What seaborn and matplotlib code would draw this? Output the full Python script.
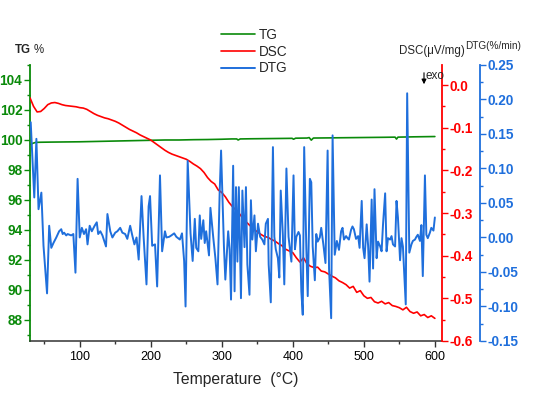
#!/usr/bin/env python3
import numpy as np
import matplotlib
matplotlib.use("Agg")
import matplotlib.pyplot as plt
from matplotlib.ticker import MultipleLocator, FormatStrFormatter
import seaborn as sns

# TG curve (%)
tg_temp = [31, 34, 38, 45, 60, 80, 100, 120, 140, 160, 180, 200, 220, 240,
           260, 280, 300, 314, 321, 323, 326, 340, 360, 380, 399, 401, 404,
           420, 423, 426, 429, 450, 470, 490, 510, 530, 544, 546, 548, 570, 600]
tg_mass = [99.70, 99.78, 99.84, 99.85, 99.86, 99.87, 99.88, 99.90, 99.92, 99.94,
           99.96, 99.98, 100.00, 100.00, 100.02, 100.03, 100.05, 100.07, 100.07, 100.00,
           100.07, 100.08, 100.09, 100.10, 100.11, 100.05, 100.12, 100.13, 100.16, 99.99,
           100.13, 100.14, 100.15, 100.16, 100.17, 100.18, 100.19, 100.06, 100.19, 100.21, 100.23]

# DSC curve (uV/mg), every 5 C from 30 to 600
dsc_temp = list(range(30, 601, 5))
dsc_heat = [-0.030, -0.050, -0.063, -0.062, -0.055, -0.046, -0.042, -0.041, -0.043, -0.046,
            -0.048, -0.049, -0.050, -0.051, -0.053, -0.054, -0.057, -0.062, -0.067, -0.071,
            -0.074, -0.077, -0.079, -0.082, -0.085, -0.089, -0.094, -0.099, -0.104, -0.108,
            -0.112, -0.117, -0.121, -0.125, -0.129, -0.135, -0.141, -0.147, -0.153, -0.158,
            -0.162, -0.165, -0.168, -0.171, -0.174, -0.179, -0.185, -0.190, -0.196, -0.205,
            -0.217, -0.226, -0.232, -0.246, -0.252, -0.262, -0.275, -0.285, -0.293, -0.302,
            -0.313, -0.322, -0.330, -0.338, -0.344, -0.350, -0.355, -0.357, -0.362, -0.366,
            -0.372, -0.377, -0.385, -0.389, -0.393, -0.405, -0.415, -0.405, -0.419, -0.425,
            -0.428, -0.427, -0.436, -0.438, -0.443, -0.448, -0.452, -0.459, -0.463, -0.468,
            -0.476, -0.472, -0.486, -0.482, -0.494, -0.500, -0.498, -0.508, -0.511, -0.507,
            -0.513, -0.510, -0.517, -0.519, -0.522, -0.527, -0.521, -0.531, -0.535, -0.532,
            -0.541, -0.538, -0.545, -0.541, -0.547]

# DTG curve (%/min)
dtg_temp = [31, 36, 39, 42, 46, 49, 54, 57, 60, 63,
            67, 71, 74, 76, 78, 81, 83, 88, 91, 94,
            97, 100, 103, 106, 109, 111, 114, 117, 121, 124,
            126, 129, 132, 137, 139, 143, 146, 150, 153, 157,
            160, 164, 167, 171, 174, 177, 180, 183, 187, 190,
            194, 197, 199, 202, 206, 209, 213, 216, 220, 222,
            226, 229, 233, 236, 241, 244, 247, 249, 252, 256,
            259, 262, 264, 267, 269, 271, 274, 276, 278, 282,
            284, 288, 291, 294, 297, 299, 303, 305, 309, 311,
            313, 316, 318, 320, 322, 324, 327, 329, 332, 334,
            336, 339, 341, 343, 346, 348, 351, 354, 357, 360,
            362, 365, 366, 369, 372, 374, 376, 379, 381, 383,
            386, 388, 391, 394, 396, 398, 401, 403, 405, 408,
            410, 412, 414, 416, 419, 421, 424, 426, 428, 431,
            433, 435, 438, 440, 443, 446, 449, 451, 454, 456,
            459, 462, 465, 468, 470, 472, 475, 477, 479, 482,
            484, 486, 489, 492, 494, 497, 499, 501, 504, 506,
            508, 511, 513, 515, 518, 520, 523, 525, 527, 530,
            532, 534, 537, 539, 541, 544, 546, 548, 551, 553,
            555, 559, 561, 564, 567, 569, 572, 574, 576, 579,
            581, 583, 586, 588, 590, 593, 595, 598, 600]
dtg_rate = [0.167, 0.058, 0.143, 0.041, 0.065, -0.012, -0.081, 0.017, -0.015, -0.008,
            0.000, 0.009, 0.012, 0.005, 0.007, 0.003, 0.005, 0.003, 0.005, -0.051,
            0.085, 0.000, 0.014, 0.005, 0.012, -0.010, 0.017, 0.009, 0.017, 0.022,
            0.005, 0.009, 0.003, -0.013, 0.034, 0.009, 0.000, 0.007, 0.009, 0.014,
            0.007, 0.005, -0.002, 0.017, 0.003, -0.010, 0.000, -0.032, 0.060, 0.000,
            -0.068, 0.045, 0.060, -0.012, -0.010, -0.071, 0.090, -0.020, 0.009, 0.000,
            0.001, 0.003, 0.006, 0.001, -0.003, 0.006, -0.034, -0.100, 0.111, 0.006,
            -0.034, 0.027, -0.015, -0.020, 0.032, -0.002, 0.025, -0.008, 0.009, -0.026,
            0.043, 0.000, -0.030, -0.068, 0.065, 0.126, -0.012, -0.061, 0.009, -0.017,
            -0.090, 0.104, -0.078, 0.073, -0.035, 0.073, -0.088, 0.068, -0.014, 0.073,
            -0.039, -0.083, 0.054, -0.003, 0.032, -0.020, 0.020, 0.001, -0.003, -0.010,
            0.020, 0.027, -0.039, -0.094, 0.131, 0.001, -0.017, -0.030, -0.058, 0.068,
            0.003, -0.068, 0.100, 0.001, -0.017, -0.035, 0.090, -0.017, 0.001, 0.008,
            0.003, -0.078, -0.112, 0.131, -0.015, -0.085, 0.085, 0.080, -0.013, -0.062,
            0.005, -0.006, 0.000, 0.014, -0.010, -0.037, 0.126, -0.045, -0.117, 0.148,
            -0.025, -0.005, -0.018, 0.009, 0.014, -0.003, 0.002, -0.001, -0.003, 0.011,
            0.016, 0.012, -0.002, 0.002, -0.015, 0.053, -0.015, -0.030, 0.019, -0.012,
            -0.064, 0.055, -0.045, 0.070, -0.030, -0.006, -0.013, -0.020, 0.019, 0.064,
            -0.020, -0.001, -0.003, 0.002, -0.010, -0.013, 0.053, 0.029, -0.033, -0.001,
            -0.013, -0.097, 0.209, -0.022, -0.010, -0.005, -0.003, 0.001, 0.004, -0.005,
            0.018, -0.056, 0.090, 0.004, -0.001, 0.007, 0.014, 0.010, 0.029]

GREEN = "#0a8a0a"
RED = "#ff0000"
BLUE = "#1f6fdc"

sns.set_theme(style="ticks")
plt.rcParams["font.family"] = ["Liberation Sans", "DejaVu Sans"]
plt.rcParams["axes.unicode_minus"] = False

fig = plt.figure(figsize=(5.43, 3.97), dpi=100)
ax1 = fig.add_axes([0.05525, 0.1411, 0.7587, 0.6952])
ax2 = ax1.twinx()
ax3 = ax1.twinx()

sns.lineplot(x=tg_temp, y=tg_mass, ax=ax1, color=GREEN, linewidth=1.2)
sns.lineplot(x=dsc_temp, y=dsc_heat, ax=ax2, color=RED, linewidth=1.2)
sns.lineplot(x=dtg_temp, y=dtg_rate, ax=ax3, color=BLUE, linewidth=1.4)

ax1.set_xlim(30, 610)
ax1.set_ylim(86.6, 105)
ax2.set_ylim(-0.6, 0.047)
ax3.set_ylim(-0.15, 0.25)

# spines
for a in (ax1, ax2, ax3):
    a.spines["top"].set_visible(False)
    a.set_ylabel("")
for a in (ax2, ax3):
    a.spines["left"].set_visible(False)
    a.spines["bottom"].set_visible(False)
ax1.spines["right"].set_visible(False)
ax1.spines["left"].set_color(GREEN)
ax1.spines["left"].set_linewidth(1.3)
ax1.spines["bottom"].set_color("#333333")
ax1.spines["bottom"].set_linewidth(1.1)
ax2.spines["right"].set_color(RED)
ax2.spines["right"].set_linewidth(1.3)
ax3.spines["right"].set_color(BLUE)
ax3.spines["right"].set_linewidth(1.3)
ax3.spines["right"].set_position(("axes", 1.0922))

# ticks
ax1.xaxis.set_major_locator(MultipleLocator(100))
ax1.xaxis.set_minor_locator(MultipleLocator(50))
ax1.yaxis.set_major_locator(MultipleLocator(2))
ax1.yaxis.set_minor_locator(MultipleLocator(1))
ax2.yaxis.set_major_locator(MultipleLocator(0.1))
ax2.yaxis.set_minor_locator(MultipleLocator(0.05))
ax2.yaxis.set_major_formatter(FormatStrFormatter("%.1f"))
ax3.yaxis.set_major_locator(MultipleLocator(0.05))
ax3.yaxis.set_minor_locator(MultipleLocator(0.025))
ax3.yaxis.set_major_formatter(FormatStrFormatter("%.2f"))

ax1.tick_params(axis="x", which="both", direction="out", colors="#333333",
                labelcolor="black", labelsize=9, width=1, pad=3)
ax1.tick_params(axis="x", which="major", length=4)
ax1.tick_params(axis="x", which="minor", length=2.5)
for a, c in ((ax1, GREEN), (ax2, RED), (ax3, BLUE)):
    a.tick_params(axis="y", which="both", direction="out", colors=c,
                  labelsize=9.8, width=1, pad=1.5)
    a.tick_params(axis="y", which="major", length=4)
    a.tick_params(axis="y", which="minor", length=2.5)
    for lab in a.get_yticklabels():
        lab.set_fontweight("bold")

ax1.set_xlabel("Temperature  (°C)", fontsize=11.3, labelpad=7)

# axis titles on top
fig.text(15 / 543, 1 - 50 / 397, "TG", fontsize=8.3, fontweight="bold", va="center")
fig.text(34 / 543, 1 - 50 / 397, "%", fontsize=8.3, va="center")
fig.text(399 / 543, 1 - 51 / 397, "DSC(μV/mg)", fontsize=8.3, va="center")
fig.text(465 / 543, 1 - 46 / 397, "DTG(%/min)", fontsize=7.2, va="center")

# exo marker
fig.add_artist(matplotlib.patches.FancyArrowPatch(
    (424 / 543, 1 - 70 / 397), (424 / 543, 1 - 87 / 397),
    transform=fig.transFigure, arrowstyle="-|>", mutation_scale=7,
    color="black", linewidth=0.8))
fig.text(426 / 543, 1 - 76 / 397, "exo", fontsize=8.5, va="center")

handles = [ax1.lines[0], ax2.lines[0], ax3.lines[0]]
fig.legend(handles, ["TG", "DSC", "DTG"], loc="upper left",
           bbox_to_anchor=(221 / 543, 1 - 28 / 397), frameon=False,
           fontsize=9.8, handlelength=2.5, handletextpad=0.3,
           labelspacing=0.2, borderpad=0, borderaxespad=0)

fig.savefig("out.png", dpi=100)
